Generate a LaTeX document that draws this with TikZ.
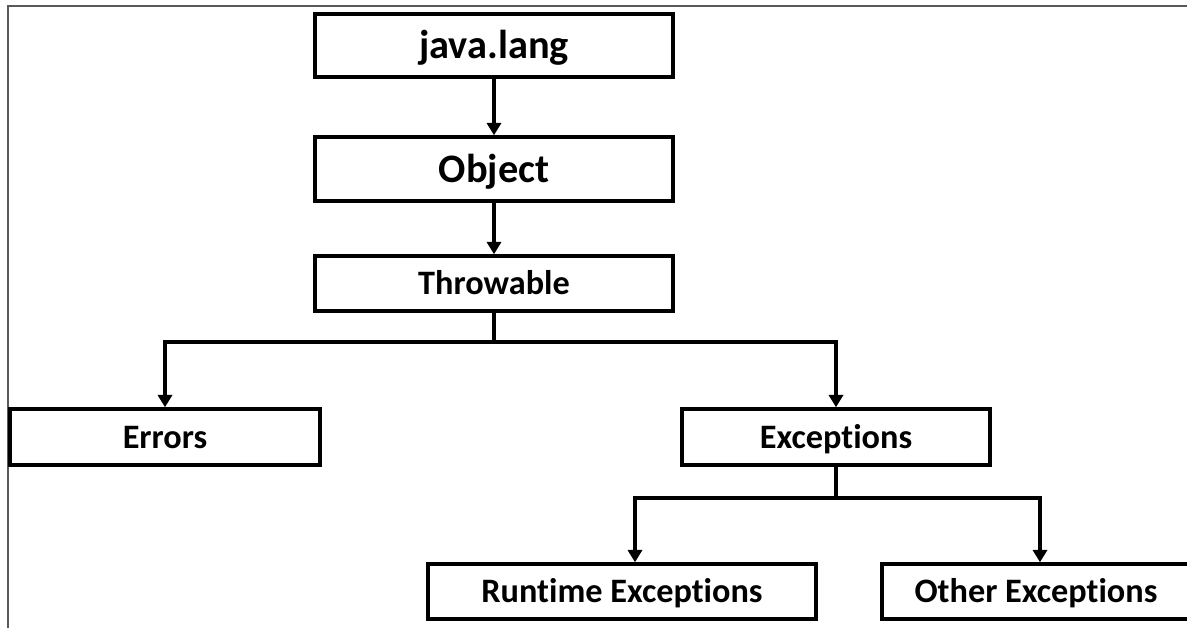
\documentclass[tikz,border=0pt]{standalone}
\usepackage{fontspec}
\setmainfont[Ligatures={NoCommon}]{Carlito}
\usepackage{tikz}
\usetikzlibrary{positioning}
\usetikzlibrary{arrows.meta}
\tikzstyle{box}=[draw, line width=2pt, rectangle, inner sep=0pt, text height=14pt, text depth=1.4pt, font=\bfseries\fontsize{19.5}{22}\selectfont]
\tikzstyle{bigbox}=[box, text height=17pt, text depth=2.2pt, font=\bfseries\fontsize{23}{26}\selectfont]
\tikzstyle{link}=[line width=2pt]
\tikzstyle{arr}=[link, -{Triangle[length=7pt, width=8pt]}]

\begin{document}
\begin{tikzpicture}[x=0.02cm, y=-0.02cm]
            \useasboundingbox (0,0) rectangle (1187,628);
            \draw[gray!70!black, line width=0.9pt] (8,640) -- (8,6) -- (1200,6);

            \node[bigbox, minimum width=7.16cm, minimum height=1.26cm] (jl) at (494,45.5) {java.lang};
            \node[bigbox, minimum width=7.16cm, minimum height=1.28cm] (obj) at (494,169) {Object};
            \node[box, minimum width=7.16cm, minimum height=1.10cm] (thr) at (494,283.5) {Throwable};
            \node[box, minimum width=6.20cm, minimum height=1.12cm] (err) at (165,437) {Errors};
            \node[box, minimum width=6.16cm, minimum height=1.12cm] (exc) at (836,437) {Exceptions};
            \node[box, minimum width=7.76cm, minimum height=1.10cm] (rt) at (622,591.5) {Runtime Exceptions};
            \node[box, minimum width=6.16cm, minimum height=1.10cm] (oth) at (1036,591.5) {Other Exceptions};

            \coordinate (fork1) at (494,342);
            \coordinate (fork2) at (836,498);

            \draw[arr] (jl) -- (obj);
            \draw[arr] (obj) -- (thr);

            \draw[link] (thr) -- (fork1);
            \draw[arr] (fork1) -| (err);
            \draw[arr] (fork1) -| (exc);

            \draw[link] (exc) -- (fork2);
            \draw[arr] (fork2) -| ([xshift=0.26cm]rt.north);
            \draw[arr] (fork2) -| ([xshift=0.08cm]oth.north);
        \end{tikzpicture}
\end{document}
